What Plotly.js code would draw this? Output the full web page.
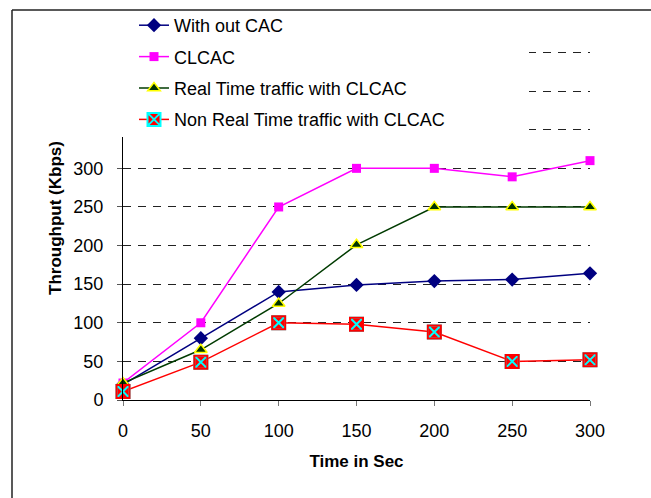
<!DOCTYPE html>
<html>
<head>
<meta charset="utf-8">
<script src="https://cdn.plot.ly/plotly-3.0.1.min.js"></script>
<style>
html,body{margin:0;padding:0;background:#fff;}
#chart{width:651px;height:498px;}
</style>
</head>
<body>
<div id="chart"></div>
<script>
// ---- data ----
var times = [0, 50, 100, 150, 200, 250, 300];
var withoutCAC = [20, 80, 140, 149, 154, 156, 164];
var clcac = [22, 100, 250, 300, 300, 289, 310];
var realTime = [22, 65, 125, 201, 250, 250, 250];
var nonRealTime = [11, 49, 100, 98, 88, 50, 52];
var seriesNames = ["With out CAC", "CLCAC", "Real Time traffic with CLCAC", "Non Real Time traffic with CLCAC"];
var yTickVals = [0, 50, 100, 150, 200, 250, 300, 350, 400, 450];
var yTickText = ["0", "50", "100", "150", "200", "250", "300", "", "", ""];
var xTickVals = [0, 50, 100, 150, 200, 250, 300];
var xTickText = ["0", "50", "100", "150", "200", "250", "300"];

var FONT = "Liberation Sans, Arial, sans-serif";

var traces = [
  {
    x: times, y: withoutCAC, name: seriesNames[0], type: "scatter", mode: "lines+markers",
    line: {color: "#000080", width: 1.5},
    marker: {symbol: "diamond", size: 11, color: "#000080", line: {width: 0}},
    cliponaxis: false, legendgroup: "a"
  },
  {
    x: times, y: clcac, name: seriesNames[1], type: "scatter", mode: "lines+markers",
    line: {color: "#FF00FF", width: 1.5},
    marker: {symbol: "square", size: 9, color: "#FF00FF", line: {width: 0}},
    cliponaxis: false, legendgroup: "b"
  },
  {
    x: times, y: realTime, name: seriesNames[2], type: "scatter", mode: "lines+markers",
    line: {color: "#003B00", width: 1.5},
    marker: {symbol: "triangle-up", size: 11, color: "#003300", line: {width: 1.5, color: "#FFFF00"}},
    cliponaxis: false, legendgroup: "c"
  },
  {
    x: times, y: nonRealTime, name: seriesNames[3], type: "scatter", mode: "lines+markers",
    line: {color: "#FF0000", width: 1.5},
    marker: {symbol: "square-x", size: 13, color: "#FF0000", line: {width: 2, color: "#00FFFF"}},
    cliponaxis: false, legendgroup: "d"
  },
  {
    x: times, y: nonRealTime, name: seriesNames[3], type: "scatter", mode: "markers",
    marker: {symbol: "square-open", size: 13, color: "#FF0000", line: {width: 2, color: "#FF0000"}},
    cliponaxis: false, showlegend: false, hoverinfo: "skip", legendgroup: "d"
  }
];

// plot area: x 123..590, y 36..400
var L = 123, R = 651 - 590, T = 36, B = 498 - 400;
var pw = 651 - L - R, ph = 498 - T - B;
function px(v){ return (v - L) / pw; }
function py(v){ return (498 - B - v) / ph; }

var layout = {
  width: 651, height: 498,
  margin: {l: L, r: R, t: T, b: B, pad: 0, autoexpand: false},
  paper_bgcolor: "#ffffff", plot_bgcolor: "#ffffff",
  font: {family: FONT, size: 18, color: "#000000"},
  showlegend: true,
  legend: {
    x: px(134), y: py(7), xanchor: "left", yanchor: "top",
    bgcolor: "rgba(0,0,0,0)", borderwidth: 0,
    font: {family: FONT, size: 18, color: "#000"},
    traceorder: "grouped", tracegroupgap: 5
  },
  xaxis: {
    range: [0, 300], tickmode: "array", tickvals: xTickVals, ticktext: xTickText,
    showgrid: false, zeroline: false, automargin: false,
    showline: true, linecolor: "#000", linewidth: 1,
    ticks: "outside", ticklen: 5, tickcolor: "#777", tickwidth: 1,
    tickfont: {family: FONT, size: 18, color: "#000"},
    ticklabelstandoff: 9,
    title: {text: "Time in Sec", font: {family: FONT, size: 17, color: "#000", weight: "bold"}, standoff: 15},
    fixedrange: true
  },
  yaxis: {
    range: [0, 471.4], tickmode: "array", tickvals: yTickVals, ticktext: yTickText,
    showgrid: true, gridcolor: "#222", gridwidth: 1, griddash: "8px,7px",
    zeroline: false, automargin: false,
    showline: true, linecolor: "#000", linewidth: 1,
    ticks: "outside", ticklen: 5, tickcolor: "#555", tickwidth: 1,
    tickfont: {family: FONT, size: 18, color: "#000"},
    ticklabelstandoff: 10,
    title: {text: "Throughput (Kbps)", font: {family: FONT, size: 17, color: "#000", weight: "bold"}, standoff: 7},
    fixedrange: true
  },
  shapes: [
    // white box behind the legend (covers upper grid and axis line)
    {type: "rect", xref: "paper", yref: "paper", x0: px(110), x1: px(529), y0: py(137), y1: py(11),
     fillcolor: "#ffffff", line: {width: 0}, layer: "above"},
    // outer chart frame
    {type: "line", xref: "paper", yref: "paper", x0: px(12), x1: px(660), y0: py(10), y1: py(10),
     line: {color: "#222", width: 1.5}},
    {type: "line", xref: "paper", yref: "paper", x0: px(12), x1: px(12), y0: py(10), y1: py(510),
     line: {color: "#222", width: 1.5}}
  ]
};

Plotly.newPlot("chart", traces, layout, {displayModeBar: false, staticPlot: true});
</script>
</body>
</html>
